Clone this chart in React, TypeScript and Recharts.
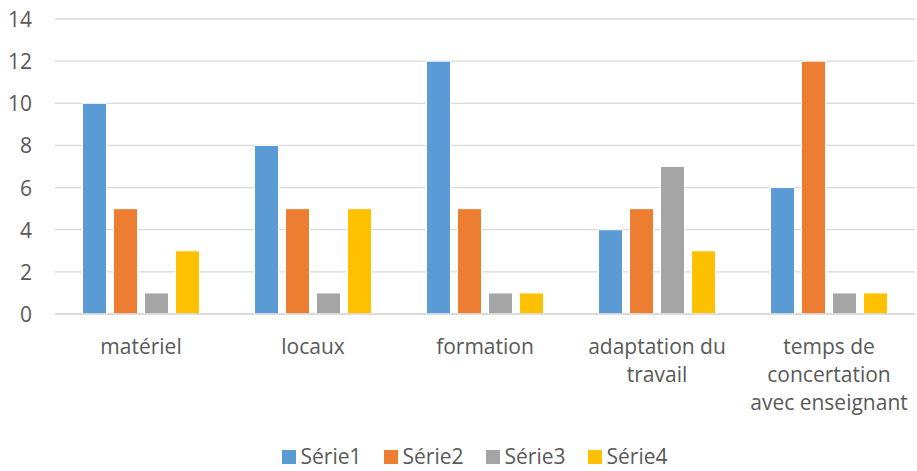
import React from 'react'
import { BarChart, Bar, XAxis, YAxis, CartesianGrid, Legend } from 'recharts'

const categories = ['matériel', 'locaux', 'formation', 'adaptation du travail', 'temps de concertation avec enseignant']
const categoryLines = [['matériel'], ['locaux'], ['formation'], ['adaptation du', 'travail'], ['temps de', 'concertation', 'avec enseignant']]
const serie1 = [10, 8, 12, 4, 6]
const serie2 = [5, 5, 5, 5, 12]
const serie3 = [1, 1, 1, 7, 1]
const serie4 = [3, 5, 1, 3, 1]
const yTicks = [0, 2, 4, 6, 8, 10, 12, 14]

const seriesNames = ['Série1', 'Série2', 'Série3', 'Série4']
const COLORS = ['#5B9BD5', '#ED7D31', '#A5A5A5', '#FFC000']
const FONT = '"Open Sans", Calibri, sans-serif'
const TEXT = '#595959'

const data = categories.map((name, i) => ({
  name,
  s1: serie1[i],
  s2: serie2[i],
  s3: serie3[i],
  s4: serie4[i],
}))

const XTick = ({ x, y, index }: any) => {
  const lines = categoryLines[index] || []
  return (
    <text x={x} y={y + 24} textAnchor="middle" fill={TEXT} fontSize={21} fontFamily={FONT} dominantBaseline="central">
      {lines.map((l, i) => (
        <tspan key={i} x={x} dy={i === 0 ? 0 : 28}>{l}</tspan>
      ))}
    </text>
  )
}

const YTick = ({ y, payload }: any) => (
  <text x={32} y={y} textAnchor="end" fill={TEXT} fontSize={21} fontFamily={FONT} dominantBaseline="central">
    {payload.value}
  </text>
)

const LegendContent = () => (
  <div style={{ display: 'flex', justifyContent: 'center', alignItems: 'center', fontFamily: FONT, fontSize: 21, color: TEXT, paddingLeft: 34, lineHeight: '29px' }}>
    {seriesNames.map((n, i) => (
      <div key={n} style={{ display: 'flex', alignItems: 'center', marginRight: i < 3 ? 22 : 0 }}>
        <span style={{ width: 14, height: 14, background: COLORS[i], display: 'inline-block', marginRight: 5 }} />
        <span>{n}</span>
      </div>
    ))}
  </div>
)

export default function App() {
  return (
    <div style={{ position: 'absolute', left: 0, top: 0, width: 917, height: 471, background: '#fff' }}>
      <BarChart
        width={917}
        height={471}
        data={data}
        margin={{ top: 19, right: 2, left: 0, bottom: 0 }}
        barCategoryGap="16%"
        barGap={7}
      >
        <CartesianGrid vertical={false} stroke="#D9D9D9" strokeWidth={1.3} />
        <XAxis
          dataKey="name"
          axisLine={{ stroke: '#D9D9D9', strokeWidth: 1.3 }}
          tickLine={false}
          tick={<XTick />}
          interval={0}
          height={128}
        />
        <YAxis
          domain={[0, 14]}
          ticks={yTicks}
          axisLine={false}
          tickLine={false}
          tick={<YTick />}
          width={55}
        />
        <Legend verticalAlign="bottom" height={29} content={<LegendContent />} />
        <Bar dataKey="s1" name="Série1" fill={COLORS[0]} stroke="#fff" strokeWidth={1} isAnimationActive={false} />
        <Bar dataKey="s2" name="Série2" fill={COLORS[1]} stroke="#fff" strokeWidth={1} isAnimationActive={false} />
        <Bar dataKey="s3" name="Série3" fill={COLORS[2]} stroke="#fff" strokeWidth={1} isAnimationActive={false} />
        <Bar dataKey="s4" name="Série4" fill={COLORS[3]} stroke="#fff" strokeWidth={1} isAnimationActive={false} />
      </BarChart>
    </div>
  )
}
